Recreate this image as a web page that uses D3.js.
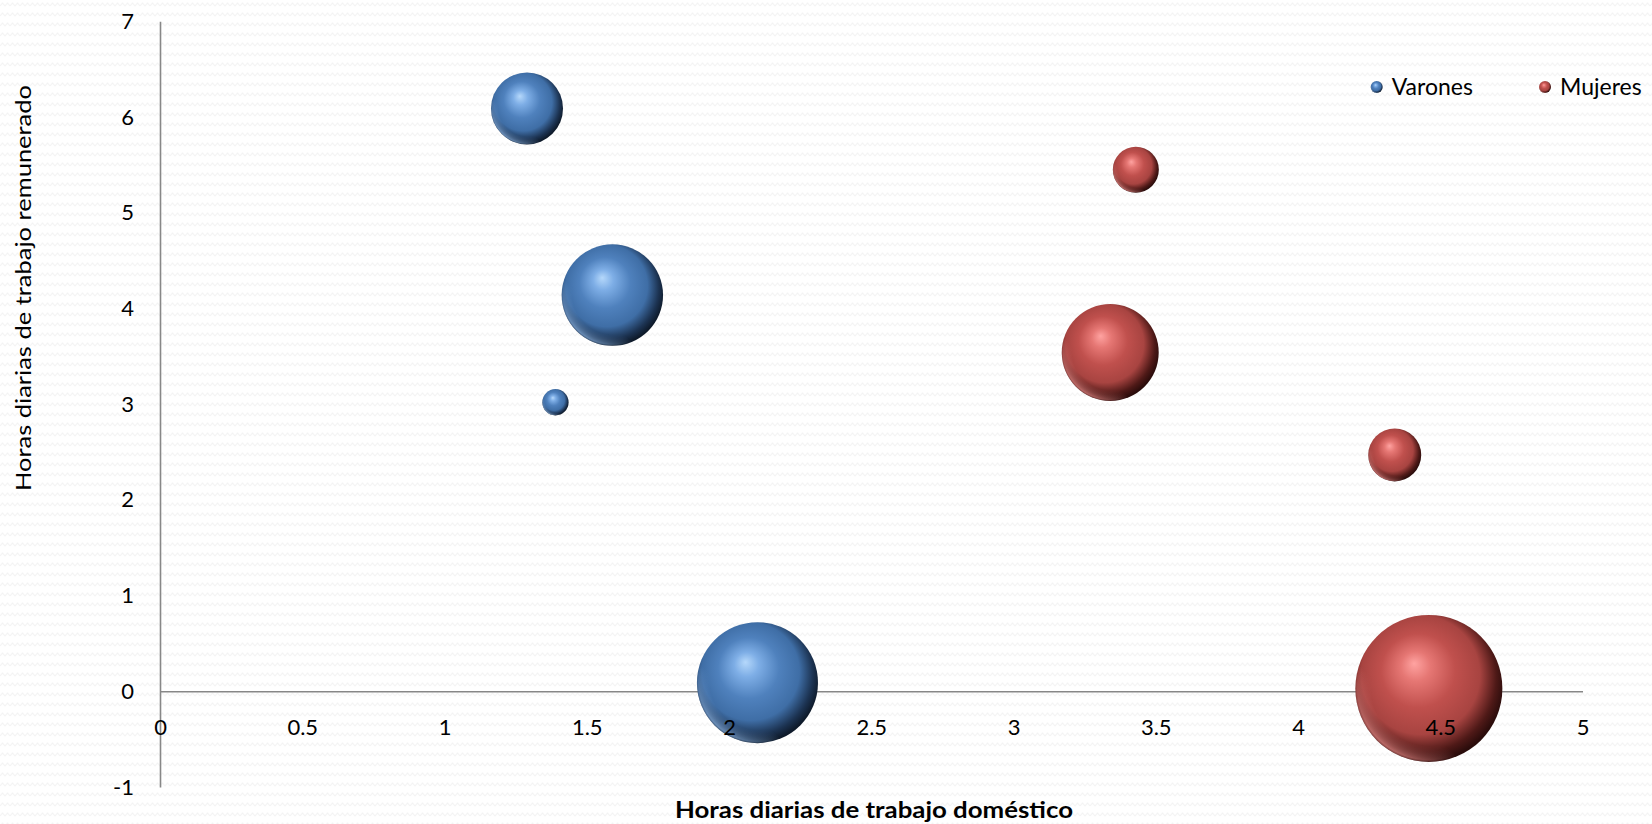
<!DOCTYPE html>
<html>
<head>
<meta charset="utf-8">
<script src="https://cdn.jsdelivr.net/npm/d3@7"></script>
<style>
  html, body { margin: 0; padding: 0; background: #ffffff; }
  svg { display: block; }
  text { font-family: Lato, "Open Sans", "DejaVu Sans", sans-serif; fill: #000; }
</style>
</head>
<body>
<svg id="chart" width="1652" height="824"></svg>
<script>
// ---- data ----
const seriesNames = ["Varones", "Mujeres"];
const varonesX = [1.29, 1.59, 1.39, 2.10];
const varonesY = [6.09, 4.14, 3.02, 0.09];
const varonesSize = [24.0, 47.6, 3.2, 67.8];
const mujeresX = [3.43, 3.34, 4.34, 4.46];
const mujeresY = [5.45, 3.54, 2.47, 0.03];
const mujeresSize = [9.8, 43.5, 13.0, 100];
const xTicks = [0, 0.5, 1, 1.5, 2, 2.5, 3, 3.5, 4, 4.5, 5];
const yTicks = [-1, 0, 1, 2, 3, 4, 5, 6, 7];
const xTitle = "Horas diarias de trabajo doméstico";
const yTitle = "Horas  diarias de trabajo remunerado";

const palettes = {
  Varones: { hi: "#b5d8fb", light: "#7eaee6", base: "#4f81bd", mid: "#3f6ea6", dark: "#1c3352", edge: "#0e1a2a", rim: "#8fb8e8" },
  Mujeres: { hi: "#ffa3a1", light: "#e67774", base: "#c0504d", mid: "#a84441", dark: "#4e1917", edge: "#2a0c0b", rim: "#f0908d" }
};

const svg = d3.select("#chart");
const W = 1652, H = 824;

const x = d3.scaleLinear().domain([0, 5]).range([160, 1582.5]);
const y = d3.scaleLinear().domain([-1, 7]).range([787, 21.3]);
const r = d3.scaleSqrt().domain([0, 100]).range([0, 73.5]);
const fmt = d => String(d);

const defs = svg.append("defs");

// background wave pattern
const pat = defs.append("pattern")
  .attr("id", "wave").attr("patternUnits", "userSpaceOnUse")
  .attr("width", 10).attr("height", 10);
pat.append("rect").attr("width", 10).attr("height", 10).attr("fill", "#ffffff");
pat.append("path")
  .attr("d", "M0,6 L2.5,3 L5,6 L7.5,3 L10,6")
  .attr("fill", "none").attr("stroke", "#f3f3f3").attr("stroke-width", 1.1);

svg.append("rect").attr("width", W).attr("height", H).attr("fill", "url(#wave)");

// sphere gradients
seriesNames.forEach(name => {
  const p = palettes[name];
  const g = defs.append("radialGradient").attr("id", "sph-" + name)
    .attr("cx", "0.46").attr("cy", "0.44").attr("r", "0.56")
    .attr("fx", "0.4").attr("fy", "0.33");
  [[0, p.hi], [0.18, p.light], [0.45, p.base], [0.72, p.mid], [0.9, p.dark], [1, p.edge]]
    .forEach(([o, c]) => g.append("stop").attr("offset", o).attr("stop-color", c));
  const rim = defs.append("linearGradient").attr("id", "rim-" + name)
    .attr("x1", "0.1").attr("y1", "0.95").attr("x2", "0.7").attr("y2", "0.3");
  rim.append("stop").attr("offset", 0).attr("stop-color", p.rim).attr("stop-opacity", 0.95);
  rim.append("stop").attr("offset", 0.45).attr("stop-color", p.rim).attr("stop-opacity", 0);
});
const ringGrad = defs.append("radialGradient").attr("id", "ringGrad")
  .attr("cx", "0.5").attr("cy", "0.5").attr("r", "0.5");
ringGrad.append("stop").attr("offset", 0.78).attr("stop-color", "#000");
ringGrad.append("stop").attr("offset", 0.97).attr("stop-color", "#fff");
ringGrad.append("stop").attr("offset", 1).attr("stop-color", "#888");
defs.append("mask").attr("id", "ringMask")
  .attr("maskContentUnits", "objectBoundingBox")
  .append("rect").attr("width", 1).attr("height", 1).attr("fill", "url(#ringGrad)");

// axis lines (behind bubbles)
const axisColor = "#878787";
const xLineG = svg.append("g").attr("transform", `translate(0,${y(0)})`)
  .call(d3.axisBottom(x).tickValues(xTicks).tickSize(0).tickFormat(""));
xLineG.select(".domain").attr("stroke", axisColor).attr("stroke-width", 1.6);

const yAxisG = svg.append("g").attr("transform", `translate(${x(0)},0)`)
  .call(d3.axisLeft(y).tickValues(yTicks).tickSize(0).tickPadding(26).tickFormat(fmt));
yAxisG.select(".domain").attr("stroke", axisColor).attr("stroke-width", 1.6);
yAxisG.selectAll("text").style("font-size", "22px").attr("font-family", null);

// bubbles
const series = [
  { name: "Varones", xs: varonesX, ys: varonesY, ss: varonesSize },
  { name: "Mujeres", xs: mujeresX, ys: mujeresY, ss: mujeresSize }
];
function sphere(g, cx, cy, rad, name) {
  g.append("circle").attr("cx", cx).attr("cy", cy).attr("r", rad)
    .attr("fill", `url(#sph-${name})`);
  g.append("circle").attr("cx", cx).attr("cy", cy).attr("r", rad)
    .attr("fill", `url(#rim-${name})`).attr("mask", "url(#ringMask)");
}
const bubbleG = svg.append("g");
series.forEach(s => {
  s.xs.forEach((xv, i) => {
    sphere(bubbleG, x(xv), y(s.ys[i]), r(s.ss[i]), s.name);
  });
});

// x tick labels (on top of bubbles)
const xLabG = svg.append("g").attr("transform", `translate(0,${y(0)})`)
  .call(d3.axisBottom(x).tickValues(xTicks).tickSize(0).tickPadding(28).tickFormat(fmt));
xLabG.select(".domain").remove();
xLabG.selectAll("text").style("font-size", "22px").attr("font-family", null);

// axis titles
svg.append("text")
  .attr("x", 874).attr("y", 818)
  .attr("text-anchor", "middle")
  .style("font-size", "22px").style("font-weight", "bold")
  .attr("textLength", 398).attr("lengthAdjust", "spacingAndGlyphs")
  .text(xTitle);

svg.append("text")
  .attr("transform", "translate(31,288) rotate(-90)")
  .attr("text-anchor", "middle")
  .style("font-size", "22px")
  .attr("textLength", 406).attr("lengthAdjust", "spacingAndGlyphs")
  .text(yTitle);

// legend
const legendX = [1376.7, 1545];
const legendG = svg.append("g");
seriesNames.forEach((name, i) => {
  sphere(legendG, legendX[i], 87, 6, name);
  legendG.append("text")
    .attr("x", legendX[i] + 15).attr("y", 95)
    .style("font-size", "23px")
    .text(name);
});
</script>
</body>
</html>
